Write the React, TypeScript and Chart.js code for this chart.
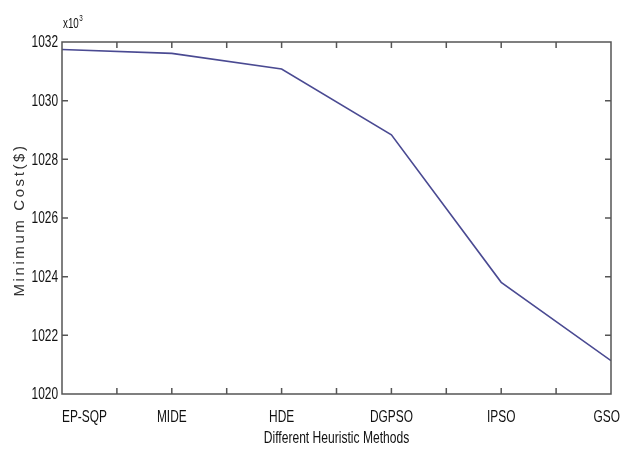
import React, { useEffect, useRef } from "react";
import { Chart, registerables } from "chart.js";

Chart.register(...registerables);

const categories = ["EP-SQP", "MIDE", "HDE", "DGPSO", "IPSO", "GSO"];
const costValues = [1031.746, 1031.612, 1031.077, 1028.835, 1023.807, 1021.136];
const yTicks = [1020, 1022, 1024, 1026, 1028, 1030, 1032];
const xAxisTitle = "Different Heuristic Methods";
const yAxisTitle = "Minimum Cost($)";

const FONT = '"Liberation Sans", Arial, sans-serif';
const SX = 0.7; // horizontal squeeze to imitate a condensed face

function squeezed(ctx: CanvasRenderingContext2D, text: string, x: number, y: number, size: number, align: CanvasTextAlign, baseline: CanvasTextBaseline, sx = SX) {
  ctx.save();
  ctx.translate(x, y);
  ctx.scale(sx, 1);
  ctx.font = `${size}px ${FONT}`;
  ctx.textAlign = align;
  ctx.textBaseline = baseline;
  ctx.fillText(text, 0, 0);
  ctx.restore();
}

const framePlugin = {
  id: "frameTicks",
  afterDraw(chart: any) {
    const { ctx, chartArea } = chart;
    const { left, right, top, bottom } = chartArea;
    const xs = chart.scales.x;
    const ys = chart.scales.y;
    ctx.save();
    ctx.strokeStyle = "#555";
    ctx.lineWidth = 1.5;
    ctx.strokeRect(left, top, right - left, bottom - top);
    const len = 6;
    ctx.beginPath();
    for (let v = 0.5; v < categories.length - 1; v += 0.5) {
      const px = xs.getPixelForValue(v);
      ctx.moveTo(px, bottom);
      ctx.lineTo(px, bottom - len);
      ctx.moveTo(px, top);
      ctx.lineTo(px, top + len);
    }
    yTicks.forEach((t, i) => {
      if (i === 0 || i === yTicks.length - 1) return;
      const py = ys.getPixelForValue(t);
      ctx.moveTo(left, py);
      ctx.lineTo(left + len, py);
      ctx.moveTo(right, py);
      ctx.lineTo(right - len, py);
    });
    ctx.stroke();

    ctx.fillStyle = "#111";
    // y tick labels
    yTicks.forEach((t) => {
      squeezed(ctx, String(t), left - 4, ys.getPixelForValue(t) + 0.5, 17, "right", "middle");
    });
    // x tick labels (first aligned to start, last to end)
    categories.forEach((c, i) => {
      const px = xs.getPixelForValue(i);
      let align: CanvasTextAlign = "center";
      if (i === 0) align = "left";
      if (i === categories.length - 1) align = "right";
      const dx = i === categories.length - 1 ? 9 : i === 0 ? 0 : 0;
      squeezed(ctx, c, px + dx, bottom + 23, 17, align, "middle");
    });
    // x title
    squeezed(ctx, xAxisTitle, (left + right) / 2, bottom + 44, 17, "center", "middle", 0.71);
    // exponent label
    squeezed(ctx, "x10", left + 1, top - 14, 14, "left", "alphabetic");
    ctx.save();
    ctx.font = `14px ${FONT}`;
    const w = ctx.measureText("x10").width * SX;
    ctx.restore();
    squeezed(ctx, "3", left + 1 + w + 0.5, top - 21, 9, "left", "alphabetic");
    // y title
    ctx.save();
    ctx.translate(20, (top + bottom) / 2 + 2);
    ctx.rotate(-Math.PI / 2);
    ctx.fillStyle = "#333";
    ctx.font = `15px ${FONT}`;
    (ctx as any).letterSpacing = "2.6px";
    ctx.textAlign = "center";
    ctx.textBaseline = "middle";
    ctx.fillText(yAxisTitle, 0, 0);
    ctx.restore();
    ctx.restore();
  },
};

export default function App() {
  const ref = useRef<HTMLCanvasElement>(null);
  useEffect(() => {
    document.body.style.margin = "0";
    const chart = new Chart(ref.current!, {
      type: "line",
      data: {
        datasets: [
          {
            data: costValues.map((v, i) => ({ x: i, y: v })),
            borderColor: "#4a4a92",
            borderWidth: 1.6,
            pointRadius: 0,
            tension: 0,
            fill: false,
          },
        ],
      },
      options: {
        animation: false,
        responsive: false,
        layout: { padding: { top: 42, right: 10, left: 0, bottom: 0 } },
        plugins: { legend: { display: false }, tooltip: { enabled: false } },
        scales: {
          x: {
            type: "linear",
            min: 0,
            max: categories.length - 1,
            grid: { display: false, drawTicks: false },
            border: { display: false },
            ticks: { display: false, stepSize: 1 },
            afterFit: (s: any) => {
              s.height = 55;
              s.paddingLeft = 0;
              s.paddingRight = 0;
            },
          },
          y: {
            min: yTicks[0],
            max: yTicks[yTicks.length - 1],
            grid: { display: false, drawTicks: false },
            border: { display: false },
            ticks: { display: false, stepSize: 2 },
            afterFit: (s: any) => {
              s.width = 62;
              s.paddingTop = 0;
              s.paddingBottom = 0;
            },
          },
        },
      },
      plugins: [framePlugin],
    });
    return () => chart.destroy();
  }, []);
  return (
    <div style={{ width: 621, height: 449 }}>
      <canvas ref={ref} width={621} height={449} style={{ width: 621, height: 449, display: "block" }} />
    </div>
  );
}
